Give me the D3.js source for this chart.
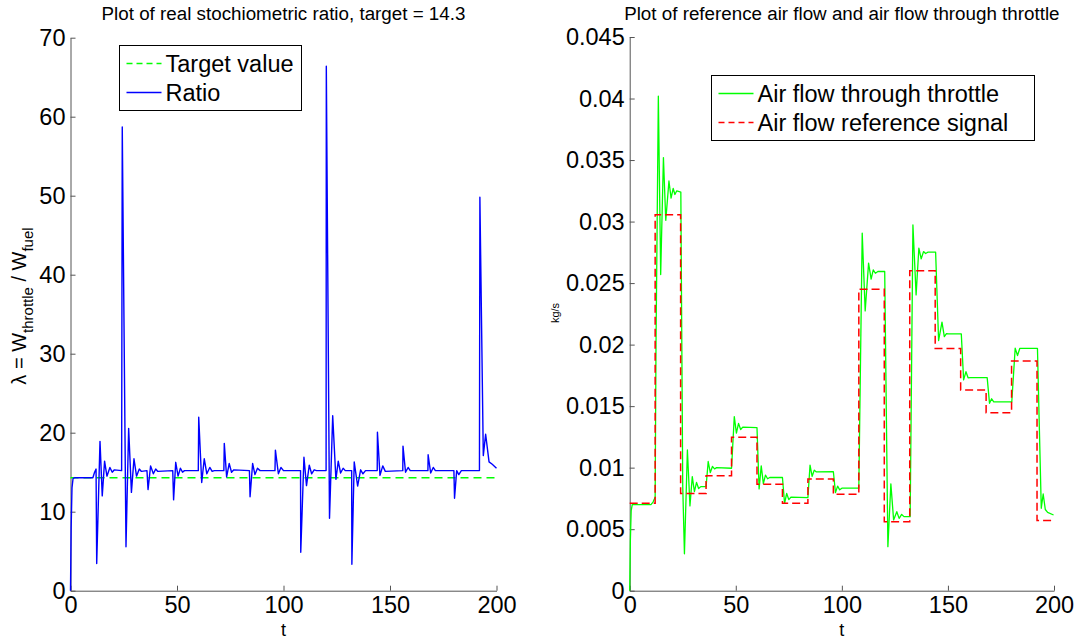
<!DOCTYPE html>
<html>
<head>
<meta charset="utf-8">
<script src="https://cdn.jsdelivr.net/npm/d3@7"></script>
<style>
  body { margin: 0; background: #fff; }
  text { font-family: "Liberation Sans", Arial, Helvetica, sans-serif; }
</style>
</head>
<body>
<svg id="chart" width="1080" height="642"></svg>
<script>
// ---- data ----
const xTicks = [0, 50, 100, 150, 200];
const xTickLabels = ["0", "50", "100", "150", "200"];

const ratioTicks = [0, 10, 20, 30, 40, 50, 60, 70];
const ratioTickLabels = ["0", "10", "20", "30", "40", "50", "60", "70"];

const flowTicks = [0, 0.005, 0.01, 0.015, 0.02, 0.025, 0.03, 0.035, 0.04, 0.045];
const flowTickLabels = ["0", "0.005", "0.01", "0.015", "0.02", "0.025", "0.03", "0.035", "0.04", "0.045"];

const targetT = [0, 200];
const targetV = [14.3, 14.3];

const ratioT = [0, 0.3, 0.7, 1.2, 2, 10.5, 11.3, 12.0, 12.3, 13.85, 14.9, 16.0, 17.1, 18.5, 19.6, 20.6,
  24.0, 24.3, 26.05, 27.3, 28.6, 29.8, 31.0, 32.3, 33.3, 35.9, 36.4, 37.6, 38.9, 40.0, 41.0,
  48.0, 48.4, 49.4, 50.5, 51.6, 52.6, 53.5, 60.0, 60.2, 61.6, 62.8, 64.0, 65.4, 66.5, 67.5,
  72.0, 72.2, 73.3, 74.5, 75.6, 76.7, 84.0, 84.3, 85.5, 86.6, 87.8, 89.0,
  96.0, 96.2, 97.6, 98.8, 100.0, 108.0, 108.1, 109.6, 110.8, 112.1, 113.2, 114.4, 115.5,
  120.0, 120.1, 121.6, 123.1, 124.6, 125.7, 126.8, 128.0, 129.0,
  132.0, 132.1, 133.2, 134.8, 136.2, 137.3, 138.5, 144.0, 144.1, 145.3, 146.6, 147.8,
  156.0, 156.1, 157.3, 158.5, 159.5, 167.8, 167.9, 169.1, 170.3, 171.3,
  180.0, 180.3, 181.3, 182.3, 183.5, 192.0, 192.2, 193.8, 194.9, 196.5, 198.0, 200.0];
const ratioV = [0, 8, 13, 14.2, 14.3, 14.3, 15.0, 15.4, 3.45, 18.9, 12.0, 16.4, 14.5, 15.6, 15.0, 15.3,
  15.2, 58.7, 5.57, 20.55, 12.45, 16.7, 14.5, 15.4, 15.1, 15.2, 12.8, 15.8, 14.8, 15.4, 15.1,
  15.2, 11.5, 16.25, 14.5, 15.5, 15.0, 15.2, 15.2, 21.95, 13.7, 16.7, 14.8, 15.6, 15.1, 15.2,
  15.2, 18.65, 14.4, 16.1, 15.0, 15.3, 15.2, 11.9, 16.1, 14.7, 15.5, 15.2,
  15.2, 17.8, 14.8, 15.6, 15.2, 15.2, 4.86, 16.9, 13.3, 15.9, 14.8, 15.3, 15.2,
  15.2, 66.4, 9.16, 22.15, 14.1, 16.4, 14.9, 15.5, 15.2,
  15.2, 3.34, 16.3, 13.25, 15.3, 14.8, 15.2, 15.2, 20.05, 14.6, 15.8, 15.1,
  15.2, 18.3, 15.0, 15.6, 15.2, 15.2, 17.2, 14.9, 15.6, 15.2,
  15.2, 11.7, 15.2, 14.7, 15.2, 15.2, 49.8, 17.1, 19.8, 16.3, 16.0, 15.5];

const flowT = [0, 0.3, 0.7, 1.2, 10.0, 11.0, 12.0, 12.4, 13.5, 14.6, 15.9, 17.0, 18.5, 19.5, 20.5, 21.3, 22.2,
  24.1, 25.0, 25.8, 27.2, 28.4, 29.5, 30.5, 31.5, 32.5, 33.5, 36.0, 37.0, 38.0, 39.0, 40.0, 41.0,
  48.0, 49.3, 50.3, 51.3, 52.3, 53.3, 60.0, 61.0, 62.0, 63.0, 64.0, 65.0, 66.0,
  72.0, 73.0, 74.0, 75.0, 76.0, 84.0, 85.0, 86.0, 87.0, 88.0, 96.0, 97.0, 98.0, 99.0, 100.0,
  108.0, 109.6, 111.0, 112.6, 113.8, 114.8, 115.8, 117.0,
  120.2, 121.7, 123.1, 124.4, 125.9, 127.0, 128.2, 129.3,
  132.2, 133.5, 135.0, 136.3, 137.4, 138.5, 139.5, 140.5, 144.2, 145.6, 147.2, 148.3, 149.3, 150.3,
  156.3, 157.4, 158.5, 159.5, 160.5, 168.5, 169.6, 170.6, 171.6,
  180.1, 181.7, 182.8, 183.9, 192.2, 194.0, 194.9, 195.9, 197.0, 199.8];
const flowV = [0, 0.004, 0.0065, 0.0070, 0.0070, 0.0072, 0.0076, 0.020, 0.0402, 0.0257, 0.0352, 0.0301, 0.0333, 0.0319, 0.0327, 0.0322, 0.0325,
  0.0324, 0.0085, 0.0030, 0.01144, 0.00689, 0.00927, 0.00805, 0.0088, 0.0083, 0.00846, 0.00846, 0.0105, 0.0096, 0.0101, 0.0099, 0.0100,
  0.00995, 0.01415, 0.0128, 0.0136, 0.0131, 0.0133, 0.01325, 0.00827, 0.01014, 0.0087, 0.0094, 0.0091, 0.0092,
  0.0092, 0.0071, 0.0079, 0.0074, 0.0076, 0.00756, 0.0102, 0.0093, 0.0098, 0.00965, 0.00967, 0.00797, 0.0085, 0.0082, 0.00833,
  0.00833, 0.02906, 0.02274, 0.02662, 0.02532, 0.02607, 0.0258, 0.02594,
  0.02594, 0.00358, 0.00868, 0.00575, 0.00642, 0.00588, 0.0062, 0.00602,
  0.00602, 0.02973, 0.02404, 0.02784, 0.02697, 0.02756, 0.0274, 0.02751, 0.02751, 0.02033, 0.02182, 0.02065, 0.0209, 0.02087,
  0.02087, 0.01713, 0.0178, 0.0173, 0.01732, 0.01732, 0.01523, 0.0156, 0.01534,
  0.01534, 0.01971, 0.01911, 0.0197, 0.0197, 0.0067, 0.00786, 0.0066, 0.00636, 0.00615];

// reference signal: level held from refT[i] to refT[i+1]
const refT = [0, 12, 24, 36, 48, 60, 72, 84, 96, 108, 120, 132, 144, 156, 168, 180, 192, 200];
const refV = [0.0071, 0.03055, 0.0079, 0.00935, 0.01247, 0.00865, 0.0071, 0.00908, 0.00784, 0.0245,
  0.00561, 0.0260, 0.01968, 0.01632, 0.01447, 0.01867, 0.0057, 0.0057];

// ---- layout ----
const svg = d3.select("#chart");
const axisColor = "#555";
const tickFont = 23.5;

const left = { x0: 70.5, x1: 496.5, y0: 590.7, y1: 37.7 };
const right = { x0: 629.7, x1: 1054, y0: 590.7, y1: 37 };

const xL = d3.scaleLinear().domain([0, 200]).range([left.x0, left.x1]);
const yL = d3.scaleLinear().domain([0, 70]).range([left.y0, left.y1]);
const xR = d3.scaleLinear().domain([0, 200]).range([right.x0, right.x1]);
const yR = d3.scaleLinear().domain([0, 0.045]).range([right.y0, right.y1]);

function styleAxis(g) {
  g.select(".domain").attr("stroke", axisColor);
  g.selectAll(".tick line").attr("stroke", axisColor);
  g.selectAll(".tick text").attr("fill", "#000").attr("font-size", tickFont)
    .attr("font-family", "Liberation Sans, Arial, sans-serif");
}

function drawAxes(xs, ys, yTicks, yLabels, box) {
  svg.append("g")
    .attr("transform", `translate(0,${box.y0})`)
    .call(d3.axisBottom(xs).tickValues(xTicks).tickFormat((d, i) => xTickLabels[i])
      .tickSizeInner(-5).tickSizeOuter(0).tickPadding(6))
    .call(styleAxis);
  svg.append("g")
    .attr("transform", `translate(${box.x0},0)`)
    .call(d3.axisLeft(ys).tickValues(yTicks).tickFormat((d, i) => yLabels[i])
      .tickSizeInner(-5).tickSizeOuter(0).tickPadding(5))
    .call(styleAxis);
}

drawAxes(xL, yL, ratioTicks, ratioTickLabels, left);
drawAxes(xR, yR, flowTicks, flowTickLabels, right);

// ---- left panel lines ----
const lineL = d3.line().x(d => xL(d[0])).y(d => yL(d[1]));
svg.append("path")
  .attr("d", lineL(d3.zip(targetT, targetV)))
  .attr("fill", "none").attr("stroke", "#00ff00").attr("stroke-width", 1.5)
  .attr("stroke-dasharray", "8,5");
svg.append("path")
  .attr("d", lineL(d3.zip(ratioT, ratioV)))
  .attr("fill", "none").attr("stroke", "#0000ff").attr("stroke-width", 1.4)
  .attr("stroke-linejoin", "round");

// ---- right panel lines ----
const lineR = d3.line().x(d => xR(d[0])).y(d => yR(d[1]));
svg.append("path")
  .attr("d", lineR(d3.zip(flowT, flowV)))
  .attr("fill", "none").attr("stroke", "#00ff00").attr("stroke-width", 1.3)
  .attr("stroke-linejoin", "round");
svg.append("path")
  .attr("d", lineR.curve(d3.curveStepAfter)(d3.zip(refT, refV)))
  .attr("fill", "none").attr("stroke", "#ff0000").attr("stroke-width", 1.5)
  .attr("stroke-dasharray", "8,4");

// ---- titles and labels ----
svg.append("text").attr("x", (left.x0 + left.x1) / 2).attr("y", 20)
  .attr("text-anchor", "middle").attr("font-size", 18.8)
  .text("Plot of real stochiometric ratio, target = 14.3");
svg.append("text").attr("x", (right.x0 + right.x1) / 2).attr("y", 20)
  .attr("text-anchor", "middle").attr("font-size", 18.8)
  .text("Plot of reference air flow and air flow through throttle");

svg.append("text").attr("x", xL(100)).attr("y", 636)
  .attr("text-anchor", "middle").attr("font-size", 18).text("t");
svg.append("text").attr("x", xR(100)).attr("y", 636)
  .attr("text-anchor", "middle").attr("font-size", 18).text("t");

const yLab = svg.append("text")
  .attr("transform", "translate(26,306) rotate(-90)")
  .attr("text-anchor", "middle").attr("font-size", 20);
yLab.append("tspan").text("\u03bb = W");
yLab.append("tspan").attr("dy", 7).attr("font-size", 15).text("throttle");
yLab.append("tspan").attr("dy", -7).text(" / W");
yLab.append("tspan").attr("dy", 7).attr("font-size", 15).text("fuel");

svg.append("text")
  .attr("transform", "translate(559,313) rotate(-90)")
  .attr("text-anchor", "middle").attr("font-size", 11).text("kg/s");

// ---- legends ----
function legend(x, y, w, h, items) {
  const g = svg.append("g");
  g.append("rect").attr("x", x).attr("y", y).attr("width", w).attr("height", h)
    .attr("fill", "#fff").attr("stroke", "#000").attr("stroke-width", 1);
  items.forEach((it, i) => {
    const cy = y + 18 + i * 29;
    g.append("line").attr("x1", x + 7).attr("x2", x + 42).attr("y1", cy).attr("y2", cy)
      .attr("stroke", it.color).attr("stroke-width", 1.4)
      .attr("stroke-dasharray", it.dash || null);
    g.append("text").attr("x", x + 46).attr("y", cy + 8)
      .attr("font-size", 23.5).text(it.label);
  });
}

legend(119.5, 45.5, 182, 65, [
  { label: "Target value", color: "#00ff00", dash: "6,4" },
  { label: "Ratio", color: "#0000ff" }
]);
legend(711.5, 75.5, 323, 65, [
  { label: "Air flow through throttle", color: "#00ff00" },
  { label: "Air flow reference signal", color: "#ff0000", dash: "6,4" }
]);
</script>
</body>
</html>
